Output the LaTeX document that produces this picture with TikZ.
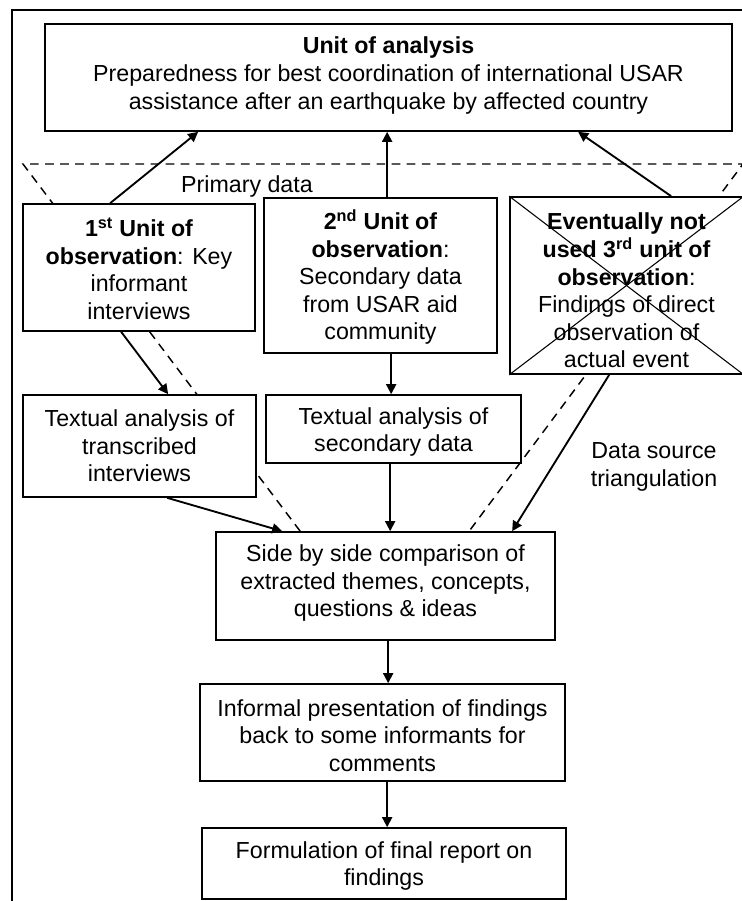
\documentclass[tikz,border=0pt]{standalone}
\usepackage{fontspec}
\setmainfont{Liberation Sans}
\usetikzlibrary{arrows.meta,calc,fit,backgrounds}
\begin{document}
\begin{tikzpicture}[x=0.75pt,y=-0.75pt,
  box/.style={draw,line width=1.25pt,fill=white,inner sep=0pt},
  txt/.style={align=center,inner sep=0pt,font=\fontsize{17.4pt}{20.7pt}\selectfont},
  arr/.style={line width=1.4pt,-{Triangle[length=7.5pt,width=7.5pt]}},
  guide/.style={line width=1.1pt,dash pattern=on 6.5pt off 4.8pt},
  cross/.style={line width=0.8pt}]
\useasboundingbox (0,0) rectangle (742,901);
\clip (0,0) rectangle (742,901);

% outer frame, open to the right and to the bottom
\draw[line width=1.25pt] (12,915) -- (12,10) -- (755,10);

% unit of analysis
\node[box,fit={(45,24) (732,131)}] (top) {};
\node[txt] (top-t) at (388.5,75.5) {\textbf{Unit of analysis}\\Preparedness for best coordination of international USAR\\assistance after an earthquake by affected country};

% units of observation
\node[box,fit={(23,204) (255,331)}] (obs1) {};
\node[txt] (obs1-t) at (139,268.5) {\textbf{1\textsuperscript{st} Unit of}\\\textbf{observation}: Key\\informant\\interviews};

\node[box,fit={(264,198) (497,353)}] (obs2) {};
\node[txt] (obs2-t) at (380.5,277) {\textbf{2\textsuperscript{nd} Unit of}\\\textbf{observation}:\\Secondary data\\from USAR aid\\community};

\node[box,fit={(510,197) (743,374)}] (obs3) {};
\node[txt] (obs3-t) at (626.5,290.5) {\textbf{Eventually not}\\\textbf{used 3\textsuperscript{rd} unit of}\\\textbf{observation}:\\Findings of direct\\observation of\\actual event};
\draw[cross] (obs3.north west) -- (obs3.south east);
\draw[cross] (obs3.south west) -- (obs3.north east);

% textual analyses
\node[box,fit={(23,395) (256,497)}] (ta1) {};
\node[txt] (ta1-t) at (139.5,446) {Textual analysis of\\transcribed\\interviews};

\node[box,fit={(266,395) (521,463)}] (ta2) {};
\node[txt] (ta2-t) at (393.5,432) {Textual analysis of\\secondary data};

% comparison, presentation, report
\node[box,fit={(216,532) (555,640)}] (cmp) {};
\node[txt] (cmp-t) at (385.5,583) {Side by side comparison of\\extracted themes, concepts,\\questions \& ideas};

\node[box,fit={(200,684) (565,781)}] (pres) {};
\node[txt] (pres-t) at (382.5,735.5) {Informal presentation of findings\\back to some informants for\\comments};

\node[box,fit={(202,828) (566,899)}] (rep) {};
\node[txt] (rep-t) at (384,866) {Formulation of final report on\\findings};

% free labels
\node[txt] (prim) at (247,186) {Primary data};
\node[txt] (tri) at (654,467) {Data source\\triangulation};

% dashed triangulation funnel, behind the boxes
\begin{scope}[on background layer]
  \draw[guide] ($(cmp.north west)+(85,0)$) -- (23,164) -- (743,164) -- ($(cmp.north west)+(254,0)$);
\end{scope}

% connectors up to the unit of analysis
\draw[arr] ($(obs1.north west)+(88,0)$) -- ($(top.south west)+(154,0)$);
\coordinate (a2) at ($(obs2.north west)+(124,0)$);
\draw[arr] (a2) -- (a2 |- top.south);
\draw[arr] ($(obs3.north west)+(162,0)$) -- ($(top.south west)+(534,0)$);

% connectors down the analysis chain
\draw[arr] ($(obs1.south west)+(99,0)$) -- ($(ta1.north west)+(146,0)$);
\coordinate (a5) at ($(obs2.south west)+(128,0)$);
\draw[arr] (a5) -- (a5 |- ta2.north);
\draw[arr] ($(ta1.south west)+(145,0)$) -- ($(cmp.north west)+(67,0)$);
\coordinate (a7) at ($(ta2.south west)+(125,0)$);
\draw[arr] (a7) -- (a7 |- cmp.north);
\draw[arr] ($(obs3.south west)+(100,0)$) -- ($(cmp.north west)+(297,0)$);
\coordinate (a9) at ($(cmp.south west)+(173,0)$);
\draw[arr] (a9) -- (a9 |- pres.north);
\coordinate (a10) at ($(pres.south west)+(188,0)$);
\draw[arr] (a10) -- (a10 |- rep.north);
\end{tikzpicture}
\end{document}
